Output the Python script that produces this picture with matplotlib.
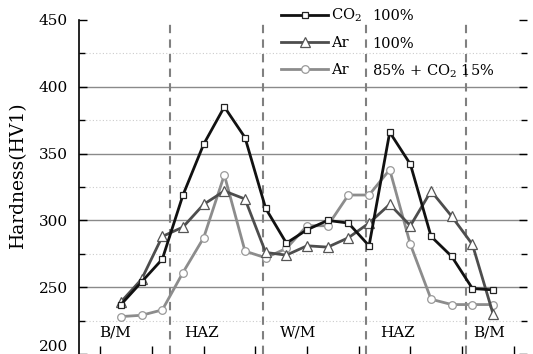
import numpy as np
import matplotlib
matplotlib.use("Agg")
import matplotlib.pyplot as plt
from matplotlib.ticker import MultipleLocator

plt.rcParams['font.family'] = ['DejaVu Serif']
plt.rcParams['mathtext.fontset'] = 'dejavuserif'

# hardness profile, 19 indentation points
co2 = [237, 254, 271, 319, 357, 385, 362, 309, 283, 293, 300, 298, 281, 366, 342, 288, 273, 249, 248]
ar = [239, 256, 288, 295, 312, 322, 316, 276, 274, 281, 280, 287, 298, 312, 296, 322, 303, 282, 230]
mix = [228, 229, 233, 261, 287, 334, 277, 272, 279, 296, 296, 319, 319, 338, 282, 241, 237, 237, 237]

zone_names = ['B/M', 'HAZ', 'W/M', 'HAZ', 'B/M']
zone_label_x = [-0.29, 3.92, 8.56, 13.4, 17.8]
zone_edges = [2.37, 6.87, 11.85, 16.69]
bottom_ticks = [-1, 1.5, 4, 6.5, 9, 11.5, 14, 16.5, 19]
y_ticks = [200, 250, 300, 350, 400, 450]

x = np.arange(len(co2))

fig = plt.figure(figsize=(5.33, 3.54), dpi=100)
ax = fig.add_axes([79/533, 0, 448/533, 334/354])

# grid
for v in [250, 300, 350, 400]:
    ax.axhline(v, color='#8a8a8a', lw=1.0, zorder=1)
for v in [225, 275, 325, 375, 425]:
    ax.axhline(v, color='#cccccc', lw=0.8, ls=(0, (1, 2)), zorder=1)

ax.vlines(zone_edges, 200, 447, colors='#808080', lw=1.5, linestyles=(0, (4, 3)), zorder=2)

l3, = ax.plot(x, mix, color='#8c8c8c', lw=2.0, marker='o', ms=5.5, mfc='white',
              mec='#999999', mew=0.9, zorder=3)
l2, = ax.plot(x, ar, color='#4d4d4d', lw=2.0, marker='^', ms=6.5, mfc='white',
              mec='#555555', mew=0.9, zorder=4)
l1, = ax.plot(x, co2, color='#111111', lw=2.0, marker='s', ms=5, mfc='white',
              mec='#222222', mew=0.9, zorder=5)

for name, xp in zip(zone_names, zone_label_x):
    ax.text(xp, 216, name, ha='center', va='center', fontsize=11)

ax.set_xlim(-2.03, 19.64)
ax.set_ylim(200, 450)
ax.set_yticks(y_ticks)
ax.yaxis.set_minor_locator(MultipleLocator(25))
ax.set_xticks(bottom_ticks)
ax.set_xticklabels([])
ax.tick_params(axis='x', direction='in', length=6, width=1, color='black')
ax.tick_params(axis='y', which='major', direction='in', length=6, width=1, pad=8,
               labelsize=11, right=True)
ax.tick_params(axis='y', which='minor', direction='in', length=4, width=1, right=True)
ax.tick_params(axis='y', which='both', labelright=False)

for s in ['top', 'right', 'bottom']:
    ax.spines[s].set_visible(False)
ax.spines['left'].set_linewidth(1.2)

# lowest label sits above the cut-off bottom edge
ax.yaxis.get_major_ticks()[0].label1.set_verticalalignment('bottom')

ax.set_ylabel('Hardness(HV1)', fontsize=13.5)
ax.yaxis.set_label_coords(-0.116, 0.537)

leg = ax.legend([l1, l2, l3], ['CO$_2$', 'Ar', 'Ar'], loc='upper left',
                bbox_to_anchor=(0.452, 1.04), frameon=False, fontsize=10.5,
                handlelength=3.2, handletextpad=0.2, labelspacing=0.85,
                borderpad=0, borderaxespad=0, numpoints=1)
leg.set_zorder(10)
for txt, yy in zip(['100%', '100%', '85% + CO$_2$ 15%'], [1.012, 0.928, 0.845]):
    ax.text(0.654, yy, txt, transform=ax.transAxes, ha='left', va='center',
            fontsize=10.5, zorder=10)

fig.savefig('out.png', dpi=100)
